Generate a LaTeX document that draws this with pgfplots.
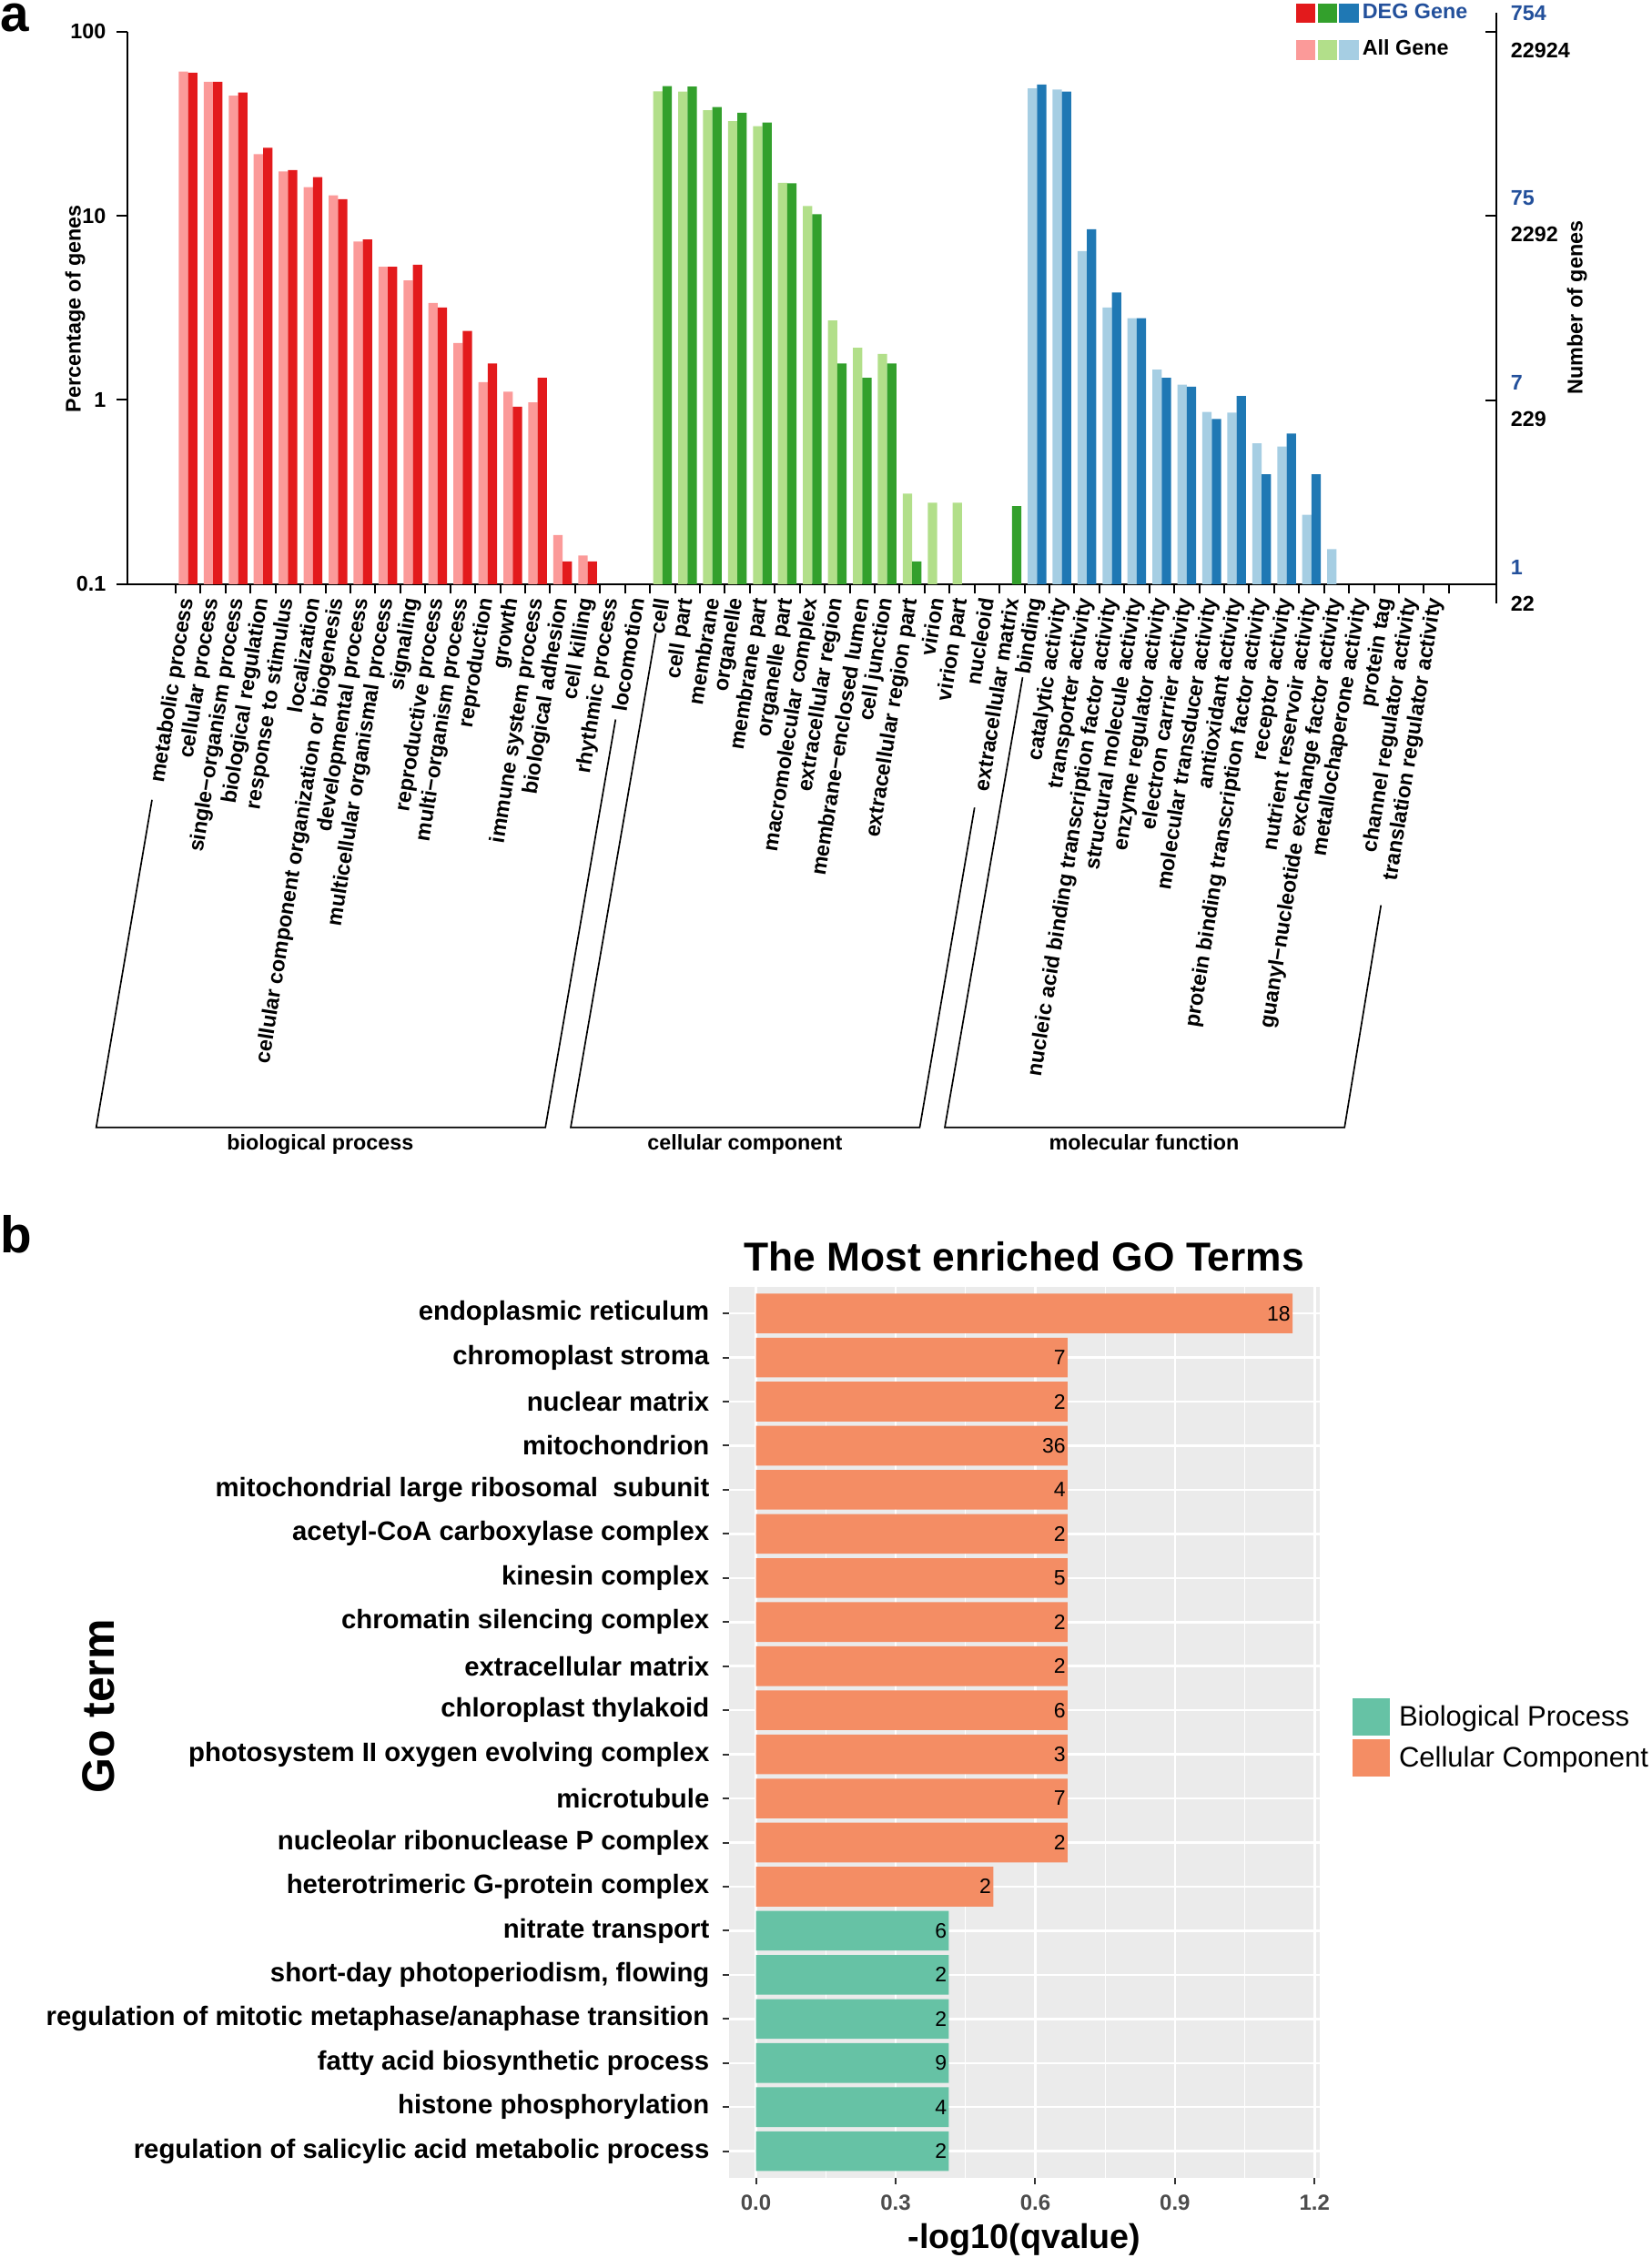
\documentclass[border=0pt]{standalone}
\usepackage{pgfplots}
\pgfplotsset{compat=1.18}
\usepackage{fontspec}
\setmainfont{Liberation Sans}
\definecolor{cRed}{HTML}{E31A1C}
\definecolor{cPink}{HTML}{FB9A99}
\definecolor{cDGreen}{HTML}{33A02C}
\definecolor{cLGreen}{HTML}{B2DF8A}
\definecolor{cDBlue}{HTML}{1F78B4}
\definecolor{cLBlue}{HTML}{A6CEE3}
\definecolor{cTeal}{HTML}{66C2A5}
\definecolor{cOrange}{HTML}{F48D64}
\definecolor{ggbg}{HTML}{EBEBEB}
\definecolor{txtBlue}{RGB}{35,80,155}
\newcommand{\fa}{\fontsize{7}{8.4}\selectfont\bfseries}
\begin{document}
\begin{tikzpicture}
\path[use as bounding box] (0,0) rectangle (544.2pt,-744.3pt);

% ---------------- panel a ----------------
\begin{axis}[
  at={(41.91pt,-192.54pt)}, anchor=south west,
  scale only axis, width=451.35pt, height=182.13pt,
  xmin=-2.443, xmax=52.41, ymin=0.1, ymax=100,
  ymode=log, log origin y=infty,
  ybar, bar width=3.075pt,
  axis x line*=bottom, axis y line*=left,
  axis line style={line width=0.6pt, -},
  tick style={line width=0.6pt, black},
  tick align=outside,
  ytick={0.1,1,10,100}, yticklabels={0.1,1,10,100},
  yminorticks=false,
  major tick length=3.5pt, minor tick length=3.0pt,
  xtick={0,...,50},
  major x tick style={draw=none},
  minor xtick={-0.5,0.5,...,50.5},
  every tick label/.append style={font=\fa},
  xticklabel style={rotate=81, anchor=east, inner sep=1pt},
  xticklabels={metabolic process,cellular process,single−organism process,biological regulation,response to stimulus,localization,cellular component organization or biogenesis,developmental process,multicellular organismal process,signaling,reproductive process,multi−organism process,reproduction,growth,immune system process,biological adhesion,cell killing,rhythmic process,locomotion,cell,cell part,membrane,organelle,membrane part,organelle part,macromolecular complex,extracellular region,membrane−enclosed lumen,cell junction,extracellular region part,virion,virion part,nucleoid,extracellular matrix,binding,catalytic activity,transporter activity,nucleic acid binding transcription factor activity,structural molecule activity,enzyme regulator activity,electron carrier activity,molecular transducer activity,antioxidant activity,protein binding transcription factor activity,receptor activity,nutrient reservoir activity,guanyl−nucleotide exchange factor activity,metallochaperone activity,protein tag,channel regulator activity,translation regulator activity},
  clip=false,
]
% biological process
\addplot[fill=cPink, draw=none, bar shift=-1.54pt] coordinates {(0,60.7)(1,53.4)(2,44.9)(3,21.6)(4,17.4)(5,14.3)(6,12.9)(7,7.25)(8,5.28)(9,4.45)(10,3.36)(11,2.04)(12,1.25)(13,1.11)(14,0.97)(15,0.185)(16,0.143)};
\addplot[fill=cRed, draw=none, bar shift=1.54pt] coordinates {(0,59.8)(1,53.4)(2,46.7)(3,23.4)(4,17.7)(5,16.2)(6,12.3)(7,7.43)(8,5.28)(9,5.42)(10,3.18)(11,2.37)(12,1.58)(13,0.92)(14,1.32)(15,0.133)(16,0.133)};
% cellular component
\addplot[fill=cLGreen, draw=none, bar shift=-1.54pt] coordinates {(19,47.4)(20,47.2)(21,37.4)(22,32.6)(23,30.7)(24,15.1)(25,11.3)(26,2.70)(27,1.92)(28,1.78)(29,0.310)(30,0.277)(31,0.277)};
\addplot[fill=cDGreen, draw=none, bar shift=1.54pt] coordinates {(19,50.6)(20,50.3)(21,38.9)(22,36.3)(23,32.1)(24,15.0)(25,10.2)(26,1.58)(27,1.32)(28,1.58)(29,0.133)(33,0.265)};
% molecular function
\addplot[fill=cLBlue, draw=none, bar shift=-1.54pt] coordinates {(34,49.1)(35,48.4)(36,6.44)(37,3.18)(38,2.78)(39,1.46)(40,1.21)(41,0.862)(42,0.854)(43,0.581)(44,0.558)(45,0.238)(46,0.155)};
\addplot[fill=cDBlue, draw=none, bar shift=1.54pt] coordinates {(34,51.6)(35,47.2)(36,8.45)(37,3.83)(38,2.78)(39,1.32)(40,1.18)(41,0.789)(42,1.05)(43,0.395)(44,0.657)(45,0.395)};
\end{axis}

% ---------------- panel b ----------------
\begin{axis}[
  at={(240.33pt,-717.81pt)}, anchor=south west,
  scale only axis, width=194.52pt, height=293.61pt,
  xbar, bar width=0.9,
  xmin=-0.0576, xmax=1.2101, ymin=0.4, ymax=20.6, y dir=reverse,
  axis background/.style={fill=ggbg},
  axis line style={draw=none},
  xtick={0,0.3,0.6,0.9,1.2}, xticklabels={0.0,0.3,0.6,0.9,1.2},
  minor xtick={0.15,0.45,0.75,1.05},
  ytick={1,...,20},
  yticklabels={endoplasmic reticulum,chromoplast stroma,nuclear matrix,mitochondrion,mitochondrial large ribosomal~ subunit,acetyl-CoA carboxylase complex,kinesin complex,chromatin silencing complex,extracellular matrix,chloroplast thylakoid,photosystem II oxygen evolving complex,microtubule,nucleolar ribonuclease P complex,heterotrimeric G-protein complex,nitrate transport,{short-day photoperiodism, flowing},regulation of mitotic metaphase/anaphase transition,fatty acid biosynthetic process,histone phosphorylation,regulation of salicylic acid metabolic process},
  xmajorgrids, xminorgrids, ymajorgrids,
  major grid style={white, line width=0.75pt},
  minor grid style={white, line width=0.4pt},
  tick align=outside, xtick pos=left, ytick pos=left,
  major tick length=2.1pt, minor tick length=0pt,
  tick style={color=black!80, line width=0.6pt},
  yticklabel style={font=\fontsize{8.8}{10}\selectfont\bfseries, anchor=east, xshift=-0.9pt},
  xticklabel style={font=\fontsize{7.2}{8}\selectfont\bfseries, text=black!70},
  nodes near coords, point meta=explicit symbolic,
  nodes near coords style={anchor=east, inner sep=0.5pt, font=\fontsize{6.9}{8}\selectfont, black},
  clip=false,
]
\addplot[fill=cOrange, draw=none, bar shift=0pt] coordinates {
(1.1525,1) [18]
(0.6695,2) [7]
(0.6695,3) [2]
(0.6695,4) [36]
(0.6695,5) [4]
(0.6695,6) [2]
(0.6695,7) [5]
(0.6695,8) [2]
(0.6695,9) [2]
(0.6695,10) [6]
(0.6695,11) [3]
(0.6695,12) [7]
(0.6695,13) [2]
(0.5099,14) [2]
};
\addplot[fill=cTeal, draw=none, bar shift=0pt] coordinates {
(0.4143,15) [6]
(0.4143,16) [2]
(0.4143,17) [2]
(0.4143,18) [9]
(0.4143,19) [4]
(0.4143,20) [2]
};
\end{axis}

% ---------------- manual annotations (px coordinates) ----------------
\begin{scope}[x=0.3pt,y=-0.3pt]
% panel labels
\node[anchor=base west, inner sep=0, font=\fontsize{17}{17}\selectfont\bfseries] at (0,34.7) {a};
\node[anchor=base west, inner sep=0, font=\fontsize{17}{17}\selectfont\bfseries] at (0,1376.5) {b};
% axis titles panel a
\node[anchor=base, rotate=90, inner sep=0, font=\fa] at (88.5,339.3) {Percentage of genes};
\node[anchor=base, rotate=90, inner sep=0, font=\fa] at (1738.5,338) {Number of genes};
% right axis
\draw[line width=0.6pt] (1644.2,14.3) -- (1644.2,662.6);
\foreach \yy in {34.7,237.1,439.5,641.8} \draw[line width=0.6pt] (1632.2,\yy) -- (1644.2,\yy);
\node[anchor=base west, inner sep=0, font=\fa, text=txtBlue] at (1659.2,22.5) {754};
\node[anchor=base west, inner sep=0, font=\fa] at (1659.2,63.7) {22924};
\node[anchor=base west, inner sep=0, font=\fa, text=txtBlue] at (1659.2,225.5) {75};
\node[anchor=base west, inner sep=0, font=\fa] at (1659.2,265.8) {2292};
\node[anchor=base west, inner sep=0, font=\fa, text=txtBlue] at (1659.2,428) {7};
\node[anchor=base west, inner sep=0, font=\fa] at (1659.2,468.3) {229};
\node[anchor=base west, inner sep=0, font=\fa, text=txtBlue] at (1659.2,631) {1};
\node[anchor=base west, inner sep=0, font=\fa] at (1659.2,671) {22};
% legend a
\fill[cRed] (1424.2,3.5) rectangle (1445.2,25.2);
\fill[cDGreen] (1447.5,3.5) rectangle (1468.8,25.2);
\fill[cDBlue] (1471.1,3.5) rectangle (1492.5,25.2);
\fill[cPink] (1424.2,44.2) rectangle (1445.2,65.9);
\fill[cLGreen] (1447.5,44.2) rectangle (1468.8,65.9);
\fill[cLBlue] (1471.1,44.2) rectangle (1492.5,65.9);
\node[anchor=base west, inner sep=0, font=\fa, text=txtBlue] at (1496.2,20.5) {DEG Gene};
\node[anchor=base west, inner sep=0, font=\fa] at (1496.2,60.7) {All Gene};
% group brackets
\draw[line width=0.5pt] (167,878.8) -- (105.7,1238.7) -- (599.2,1238.7) -- (676.3,790.5);
\draw[line width=0.5pt] (720.5,695.8) -- (627,1238.7) -- (1010.5,1238.7) -- (1070.7,887.3);
\draw[line width=0.5pt] (1123.5,744.2) -- (1038,1238.7) -- (1477.2,1238.7) -- (1517.2,994.6);
\node[anchor=base, inner sep=0, font=\fa] at (351.8,1263) {biological process};
\node[anchor=base, inner sep=0, font=\fa] at (818.4,1263) {cellular component};
\node[anchor=base, inner sep=0, font=\fa] at (1256.9,1263) {molecular function};
% panel b titles
\node[anchor=base, inner sep=0, font=\fontsize{13.3}{15}\selectfont\bfseries] at (1125.3,1396.8) {The Most enriched GO Terms};
\node[anchor=base, inner sep=0, font=\fontsize{11.3}{13}\selectfont\bfseries] at (1125.3,2470) {-log10(qvalue)};
\node[anchor=base, rotate=90, inner sep=0, font=\fontsize{15}{17}\selectfont\bfseries] at (125,1875) {Go term};
% legend b
\fill[cTeal] (1485.7,1865.7) rectangle (1527,1907);
\fill[cOrange] (1485.7,1911) rectangle (1527,1952.3);
\node[anchor=base west, inner sep=0, font=\fontsize{9.3}{11}\selectfont] at (1536.3,1896.7) {Biological Process};
\node[anchor=base west, inner sep=0, font=\fontsize{9.3}{11}\selectfont] at (1536.3,1941.7) {Cellular Component};
\end{scope}
\end{tikzpicture}
\end{document}
